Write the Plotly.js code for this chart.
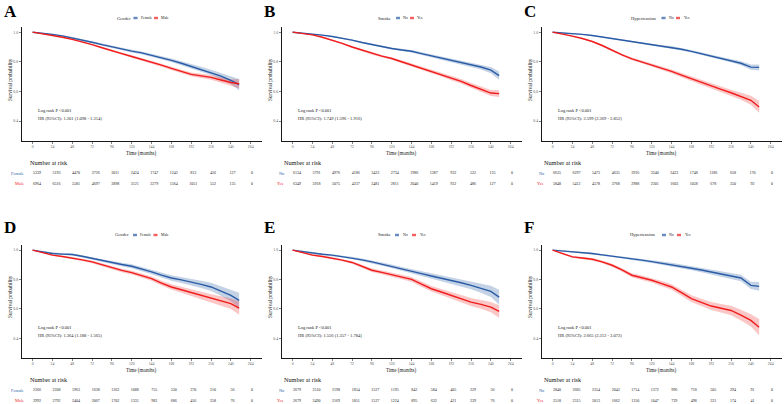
<!DOCTYPE html>
<html><head><meta charset="utf-8">
<script src="https://cdn.plot.ly/plotly-3.0.1.min.js"></script>
<style>html,body{margin:0;padding:0;background:#fff}#chart{width:784px;height:404px}</style>
</head><body><div id="chart"></div>
<script>
// ---------- DATA ----------
const months = [0,12,24,36,48,60,72,84,96,108,120,132,144,156,168,180,192,204,216,228,240,250];
const riskTimes = [0,24,48,72,96,120,144,168,192,216,240,264];
const xTicks = [0,24,48,72,96,120,144,168,192,216,240,264];
const yTicks = [0.4,0.6,0.8,1.0];
const yTickText = ['0.4','0.6','0.8','1.0'];

const panelLetters = ['A','B','C','D','E','F'];
const groupTitles = ['Gender','Smoke','Hypertension','Gender','Smoke','Hypertension'];
const groupLevels = [['Female','Male'],['No','Yes'],['No','Yes'],['Female','Male'],['No','Yes'],['No','Yes']];
const logRankText = ['Log rank P <0.001','Log rank P <0.001','Log rank P <0.001','Log rank P <0.001','Log rank P <0.001','Log rank P <0.001'];
const hrText = ['HR (95%CI): 1.201 (1.098 - 1.314)','HR (95%CI): 1.749 (1.596 - 1.916)','HR (95%CI): 2.599 (2.369 - 2.852)',
                'HR (95%CI): 1.364 (1.188 - 1.565)','HR (95%CI): 1.556 (1.357 - 1.784)','HR (95%CI): 2.665 (2.312 - 3.072)'];

// survival estimates
const survA1 = [1,0.995,0.985,0.975,0.962,0.948,0.932,0.916,0.900,0.886,0.872,0.860,0.844,0.826,0.810,0.790,0.768,0.750,0.729,0.703,0.675,0.645];
const survA2 = [1,0.990,0.980,0.966,0.951,0.935,0.916,0.895,0.873,0.855,0.836,0.817,0.800,0.777,0.756,0.736,0.715,0.705,0.695,0.677,0.660,0.652];
const survB1 = [1,0.995,0.988,0.980,0.971,0.960,0.946,0.930,0.915,0.902,0.890,0.880,0.871,0.855,0.840,0.822,0.807,0.795,0.780,0.765,0.744,0.707];
const survB2 = [1,0.992,0.982,0.966,0.947,0.924,0.900,0.878,0.855,0.838,0.822,0.800,0.778,0.758,0.737,0.713,0.689,0.668,0.640,0.612,0.589,0.585];
const survC1 = [1,0.996,0.990,0.985,0.978,0.968,0.958,0.948,0.937,0.925,0.915,0.905,0.899,0.885,0.870,0.855,0.838,0.822,0.809,0.790,0.764,0.762];
const survC2 = [1,0.988,0.973,0.957,0.937,0.910,0.876,0.847,0.820,0.800,0.780,0.757,0.735,0.710,0.685,0.660,0.636,0.614,0.591,0.567,0.540,0.495];
const survD1 = [1,0.990,0.977,0.973,0.970,0.958,0.943,0.928,0.913,0.902,0.890,0.872,0.852,0.830,0.810,0.797,0.783,0.767,0.749,0.722,0.692,0.658];
const survD2 = [1,0.985,0.966,0.957,0.947,0.934,0.920,0.900,0.879,0.862,0.847,0.828,0.806,0.775,0.749,0.730,0.710,0.692,0.674,0.655,0.635,0.605];
const survE1 = [1,0.990,0.977,0.972,0.966,0.957,0.947,0.934,0.920,0.905,0.890,0.872,0.856,0.840,0.824,0.810,0.795,0.778,0.760,0.740,0.719,0.680];
const survE2 = [1,0.985,0.966,0.957,0.947,0.932,0.916,0.890,0.863,0.848,0.833,0.818,0.801,0.768,0.737,0.715,0.692,0.668,0.646,0.630,0.612,0.582];
const survF1 = [1,0.995,0.990,0.983,0.977,0.968,0.960,0.952,0.943,0.932,0.922,0.912,0.902,0.890,0.877,0.865,0.852,0.838,0.824,0.810,0.760,0.753];
const survF2 = [1,0.975,0.954,0.946,0.938,0.920,0.897,0.865,0.829,0.812,0.795,0.772,0.749,0.710,0.669,0.644,0.619,0.604,0.589,0.557,0.521,0.475];

// 95% CI half-widths
const ciA1 = [0,0.002,0.003,0.004,0.005,0.005,0.006,0.007,0.007,0.008,0.009,0.009,0.010,0.011,0.012,0.013,0.014,0.016,0.018,0.021,0.026,0.038];
const ciA2 = [0,0.002,0.002,0.003,0.004,0.005,0.005,0.006,0.007,0.007,0.008,0.009,0.009,0.010,0.011,0.012,0.013,0.014,0.016,0.018,0.022,0.030];
const ciB1 = [0,0.001,0.002,0.003,0.003,0.004,0.005,0.005,0.006,0.006,0.007,0.008,0.008,0.009,0.010,0.011,0.012,0.013,0.015,0.017,0.021,0.028];
const ciB2 = [0,0.002,0.003,0.004,0.005,0.005,0.006,0.007,0.008,0.008,0.009,0.010,0.010,0.011,0.012,0.013,0.014,0.015,0.016,0.018,0.020,0.022];
const ciC1 = [0,0.001,0.002,0.002,0.003,0.003,0.004,0.004,0.005,0.005,0.006,0.006,0.007,0.008,0.008,0.009,0.010,0.011,0.012,0.014,0.017,0.020];
const ciC2 = [0,0.002,0.003,0.004,0.005,0.006,0.007,0.008,0.009,0.010,0.011,0.012,0.013,0.014,0.015,0.016,0.017,0.019,0.021,0.024,0.030,0.040];
const ciD1 = [0,0.003,0.005,0.006,0.007,0.008,0.009,0.010,0.011,0.012,0.013,0.014,0.016,0.017,0.019,0.021,0.023,0.025,0.028,0.032,0.040,0.052];
const ciD2 = [0,0.003,0.004,0.006,0.007,0.008,0.009,0.010,0.011,0.012,0.013,0.014,0.015,0.016,0.018,0.020,0.022,0.024,0.026,0.030,0.036,0.045];
const ciE1 = [0,0.003,0.004,0.005,0.006,0.007,0.008,0.009,0.010,0.011,0.012,0.013,0.015,0.016,0.018,0.020,0.022,0.024,0.027,0.031,0.038,0.050];
const ciE2 = [0,0.003,0.005,0.006,0.007,0.008,0.009,0.010,0.012,0.013,0.014,0.015,0.016,0.018,0.019,0.021,0.023,0.025,0.027,0.030,0.035,0.042];
const ciF1 = [0,0.002,0.003,0.004,0.005,0.006,0.007,0.008,0.008,0.009,0.010,0.011,0.012,0.013,0.014,0.015,0.016,0.018,0.020,0.022,0.025,0.030];
const ciF2 = [0,0.004,0.006,0.007,0.009,0.010,0.011,0.012,0.014,0.015,0.016,0.018,0.019,0.021,0.023,0.025,0.027,0.029,0.032,0.036,0.042,0.055];

// numbers at risk
const riskA1 = [5339,5193,4470,3726,3011,2424,1747,1242,813,456,127,0];
const riskA2 = [6964,6516,5581,4697,3898,3121,2279,1564,1051,552,135,0];
const riskB1 = [6134,5791,4976,4186,3423,2734,1986,1387,932,522,135,0];
const riskB2 = [6349,5918,5075,4237,3481,2811,2040,1419,932,486,127,0];
const riskC1 = [6635,6297,5473,4635,3916,3240,2423,1748,1186,658,170,0];
const riskC2 = [5848,5412,4578,3768,2988,2301,1603,1058,678,350,92,0];
const riskD1 = [2366,2208,1963,1638,1362,1088,755,530,370,210,56,0];
const riskD2 = [2992,2792,2404,2067,1702,1331,982,686,456,258,76,0];
const riskE1 = [2679,2510,2198,1854,1527,1195,842,584,405,229,56,0];
const riskE2 = [2679,2490,2169,1851,1537,1224,895,632,421,239,76,0];
const riskF1 = [2840,2685,2354,2043,1714,1372,996,718,505,294,91,0];
const riskF2 = [2518,2315,2013,1662,1350,1047,739,498,321,174,41,0];

const surv = [[survA1,survA2],[survB1,survB2],[survC1,survC2],[survD1,survD2],[survE1,survE2],[survF1,survF2]];
const ci = [[ciA1,ciA2],[ciB1,ciB2],[ciC1,ciC2],[ciD1,ciD2],[ciE1,ciE2],[ciF1,ciF2]];
const risk = [[riskA1,riskA2],[riskB1,riskB2],[riskC1,riskC2],[riskD1,riskD2],[riskE1,riskE2],[riskF1,riskF2]];

// ---------- STYLE / LAYOUT ----------
const W = 784, H = 404;
const BLUE = '#2A5CA6', RED = '#F01C1C';
const FILLS = ['rgba(42,92,166,0.28)','rgba(240,28,28,0.25)'];
const COLS = [BLUE, RED];
const SERIF = 'Liberation Serif, Times New Roman, serif';
const colOff = [0, 260, 520];
const rowOff = [0, 217];
const px = v => v / W;
const py = v => 1 - v / H;

// legend x positions (relative px) per panel: [titleRight, key1, label1, key2, label2]
const legPos = [[133,135.5,138.5,156,159],[133,138,141,152,155.5],[138,143.5,146.5,158,161.5],
                [131,135,138,155.5,159],[133,137,140.5,154,157.5],[137,144,147,159,162.5]];

const data = [];
const layout = {
  width: W, height: H, margin: {l:0,r:0,t:0,b:0},
  paper_bgcolor: '#fff', plot_bgcolor: 'rgba(0,0,0,0)',
  showlegend: false, annotations: [], shapes: [],
  font: {family: SERIF, color: '#000'}
};

for (let i = 0; i < 6; i++) {
  const ox = colOff[i % 3], oy = rowOff[Math.floor(i / 3)];
  const kP = 2*i + 1, kT = 2*i + 2;
  const xP = kP === 1 ? 'x' : 'x' + kP, yP = kP === 1 ? 'y' : 'y' + kP;
  const xT = 'x' + kT, yT = 'y' + kT;
  const xDom = [px(ox + 21.7), px(ox + 261.6)];
  const yTop = oy + (i < 3 ? 27 : 28), yBot = oy + 141;

  layout[kP === 1 ? 'xaxis' : 'xaxis' + kP] = {
    domain: xDom, range: [-13.2, 277.2], anchor: yP,
    tickvals: xTicks, ticktext: xTicks.map(String), ticks: 'outside', ticklen: 2, tickwidth: 0.6, tickcolor: '#333',
    showline: true, linecolor: '#000', linewidth: 0.9, showgrid: false, zeroline: false,
    tickfont: {size: 3.8, color: '#555', family: SERIF}, fixedrange: true
  };
  layout[kP === 1 ? 'yaxis' : 'yaxis' + kP] = {
    domain: [py(yBot), py(yTop)], range: [0.265, 1.035], anchor: xP,
    tickvals: yTicks, ticktext: yTickText, ticks: 'outside', ticklen: 2, tickwidth: 0.6, tickcolor: '#333',
    showline: true, linecolor: '#000', linewidth: 0.9, showgrid: false, zeroline: false,
    tickfont: {size: 3.8, color: '#555', family: SERIF}, fixedrange: true
  };
  // risk table axes
  layout['xaxis' + kT] = {domain: xDom, range: [-18.8, 275.8], anchor: yT, visible: false, fixedrange: true};
  layout['yaxis' + kT] = {domain: [Math.max(0, py(oy + 186)), py(oy + 168)], range: [-0.245, 1.52], anchor: xT, visible: false, fixedrange: true};

  // CI ribbons
  for (let g = 0; g < 2; g++) {
    const s = surv[i][g], c = ci[i][g];
    data.push({x: months, y: s.map((v, j) => v - c[j]), xaxis: xP, yaxis: yP, mode: 'lines',
      line: {width: 0, color: COLS[g]}, hoverinfo: 'skip', type: 'scatter'});
    data.push({x: months, y: s.map((v, j) => v + c[j]), xaxis: xP, yaxis: yP, mode: 'lines',
      line: {width: 0, color: COLS[g]}, fill: 'tonexty', fillcolor: FILLS[g], hoverinfo: 'skip', type: 'scatter'});
  }
  // survival lines
  for (let g = 0; g < 2; g++) {
    data.push({x: months, y: surv[i][g], xaxis: xP, yaxis: yP, mode: 'lines',
      line: {width: 1.4, color: COLS[g]}, type: 'scatter', name: groupLevels[i][g]});
  }
  // risk table numbers
  for (let g = 0; g < 2; g++) {
    data.push({x: riskTimes, y: riskTimes.map(() => 1 - g), xaxis: xT, yaxis: yT, mode: 'text',
      text: risk[i][g].map(String), textposition: 'middle center',
      textfont: {size: 4, color: '#222', family: SERIF}, type: 'scatter', hoverinfo: 'skip'});
    layout.annotations.push({xref: xT, yref: yT, x: -13.5, y: 1 - g, xanchor: 'right', yanchor: 'middle',
      text: groupLevels[i][g], showarrow: false, font: {size: 4.3, color: COLS[g], family: SERIF}});
  }

  const A = layout.annotations;
  // panel letter
  A.push({xref: 'paper', yref: 'paper', x: px(ox + 1.5), y: py(oy + 11), xanchor: 'left', yanchor: 'middle',
    text: '<b>' + panelLetters[i] + '</b>', showarrow: false, font: {size: 17, family: SERIF, color: '#000'}});
  // legend
  const L = legPos[i], ly = py(oy + 18);
  A.push({xref: 'paper', yref: 'paper', x: px(ox + L[0]), y: ly, xanchor: 'right', yanchor: 'middle',
    text: groupTitles[i], showarrow: false, font: {size: 4.6, family: SERIF, color: '#222'}});
  A.push({xref: 'paper', yref: 'paper', x: px(ox + L[2]), y: ly, xanchor: 'left', yanchor: 'middle',
    text: groupLevels[i][0], showarrow: false, font: {size: 3.8, family: SERIF, color: '#222'}});
  A.push({xref: 'paper', yref: 'paper', x: px(ox + L[4]), y: ly, xanchor: 'left', yanchor: 'middle',
    text: groupLevels[i][1], showarrow: false, font: {size: 3.8, family: SERIF, color: '#222'}});
  [[L[1], 0], [L[3], 1]].forEach(([kx, g]) => {
    layout.shapes.push({type: 'rect', xref: 'paper', yref: 'paper', x0: px(ox + kx - 2), x1: px(ox + kx + 2),
      y0: py(oy + 19.6), y1: py(oy + 16.4), fillcolor: FILLS[g], line: {width: 0}});
    layout.shapes.push({type: 'line', xref: 'paper', yref: 'paper', x0: px(ox + kx - 2), x1: px(ox + kx + 2),
      y0: py(oy + 18), y1: py(oy + 18), line: {width: 1.2, color: COLS[g]}});
  });
  // axis titles
  A.push({xref: 'paper', yref: 'paper', x: px(ox + 141.6), y: py(oy + 153), xanchor: 'center', yanchor: 'middle',
    text: 'Time (months)', showarrow: false, font: {size: 5.1, family: SERIF, color: '#222'}});
  A.push({xref: 'paper', yref: 'paper', x: px(ox + 10), y: py(oy + 80), xanchor: 'center', yanchor: 'middle',
    text: 'Survival probability', textangle: -90, showarrow: false, font: {size: 5.3, family: SERIF, color: '#222'}});
  // log rank / HR
  A.push({xref: 'paper', yref: 'paper', x: px(ox + 35.5), y: py(oy + 110), xanchor: 'left', yanchor: 'middle',
    text: logRankText[i], showarrow: false, font: {size: 4.5, family: SERIF, color: '#222'}});
  A.push({xref: 'paper', yref: 'paper', x: px(ox + 35.5), y: py(oy + 118), xanchor: 'left', yanchor: 'middle',
    text: hrText[i], showarrow: false, font: {size: 4.5, family: SERIF, color: '#222'}});
  // number at risk title
  A.push({xref: 'paper', yref: 'paper', x: px(ox + (i % 3 === 0 ? 27.5 : 21.5)), y: py(oy + 162.5), xanchor: 'left', yanchor: 'middle',
    text: 'Number at risk', showarrow: false, font: {size: 6.2, family: SERIF, color: '#111'}});
}

Plotly.newPlot('chart', data, layout, {displayModeBar: false, staticPlot: true});
</script>
</body></html>
